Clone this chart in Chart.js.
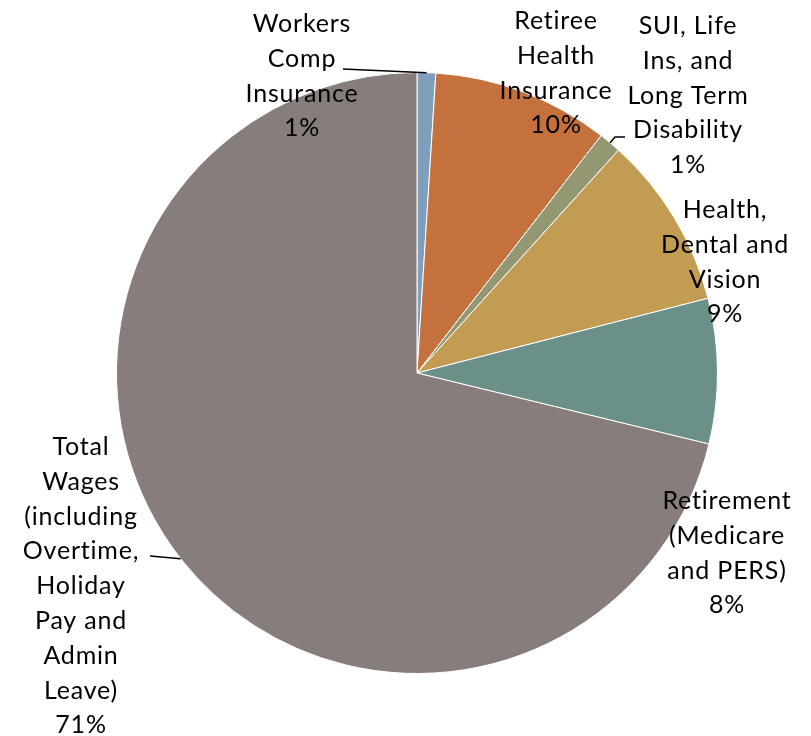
<!DOCTYPE html>
<html>
<head>
<meta charset="utf-8">
<script src="https://cdn.jsdelivr.net/npm/chart.js@4"></script>
<style>
  html, body { margin: 0; padding: 0; background: #fff; }
  #wrap { width: 811px; height: 736px; position: relative; }
</style>
</head>
<body>
<div id="wrap"><canvas id="pie"></canvas></div>
<script>
// slice names, one entry per line of the printed label
const categories = [
    ['Workers', 'Comp', 'Insurance'],
    ['Retiree', 'Health', 'Insurance'],
    ['SUI, Life', 'Ins, and', 'Long Term', 'Disability'],
    ['Health,', 'Dental and', 'Vision'],
    ['Retirement', '(Medicare', 'and PERS)'],
    ['Total', 'Wages', '(including', 'Overtime,', 'Holiday', 'Pay and', 'Admin', 'Leave)']
];
// share of total compensation cost (%)
const shares = [1.0, 9.5, 1.2, 9.3, 7.8, 71.2];
const sliceColors = ['#809fbd', '#c5713d', '#939873', '#c19c52', '#6a9089', '#877d7a'];

// label placement relative to the pie centre: text centre x, first baseline y
const labelPos = [
    { dx: -115, dy: -341, lead: [[-74, -304]] },
    { dx: 139,  dy: -344 },
    { dx: 271,  dy: -339, lead: [[208, -236], [198, -236]] },
    { dx: 308,  dy: -155 },
    { dx: 310,  dy: 136 },
    { dx: -336, dy: 82, lead: [[-267, 183]] }
];
const lineGap = 34.8;
const labelFont = '25px "Lato", "Open Sans", sans-serif';

const pieLabels = {
    id: 'pieLabels',
    afterDatasetsDraw(chart) {
        const ctx = chart.ctx;
        const meta = chart.getDatasetMeta(0);
        const data = chart.data.datasets[0].data;
        const total = data.reduce((a, b) => a + b, 0);
        ctx.save();
        meta.data.forEach((arc, i) => {
            const p = labelPos[i];
            const cx = arc.x, cy = arc.y;
            // leader line to the middle of the slice's outer edge
            if (p.lead) {
                const mid = (arc.startAngle + arc.endAngle) / 2;
                ctx.beginPath();
                ctx.strokeStyle = '#000';
                ctx.lineWidth = 1.5;
                ctx.moveTo(cx + p.lead[0][0], cy + p.lead[0][1]);
                for (let k = 1; k < p.lead.length; k++) {
                    ctx.lineTo(cx + p.lead[k][0], cy + p.lead[k][1]);
                }
                ctx.lineTo(cx + Math.cos(mid) * arc.outerRadius, cy + Math.sin(mid) * arc.outerRadius);
                ctx.stroke();
            }
            const lines = categories[i].concat([Math.round(data[i] / total * 100) + '%']);
            ctx.fillStyle = '#000';
            ctx.font = labelFont;
            ctx.letterSpacing = '0.8px';
            ctx.textAlign = 'center';
            ctx.textBaseline = 'alphabetic';
            lines.forEach((t, k) => {
                ctx.fillText(t, cx + p.dx, cy + p.dy + k * lineGap);
            });
        });
        ctx.restore();
    }
};

new Chart(document.getElementById('pie'), {
    type: 'pie',
    data: {
        labels: categories.map(c => c.join(' ')),
        datasets: [{
            data: shares,
            backgroundColor: sliceColors,
            borderColor: '#ffffff',
            borderWidth: 1
        }]
    },
    options: {
        responsive: true,
        maintainAspectRatio: false,
        animation: false,
        layout: { padding: { left: 116, right: 93, top: 72, bottom: 62 } },
        plugins: {
            legend: { display: false },
            tooltip: { enabled: false }
        }
    },
    plugins: [pieLabels]
});
</script>
</body>
</html>
